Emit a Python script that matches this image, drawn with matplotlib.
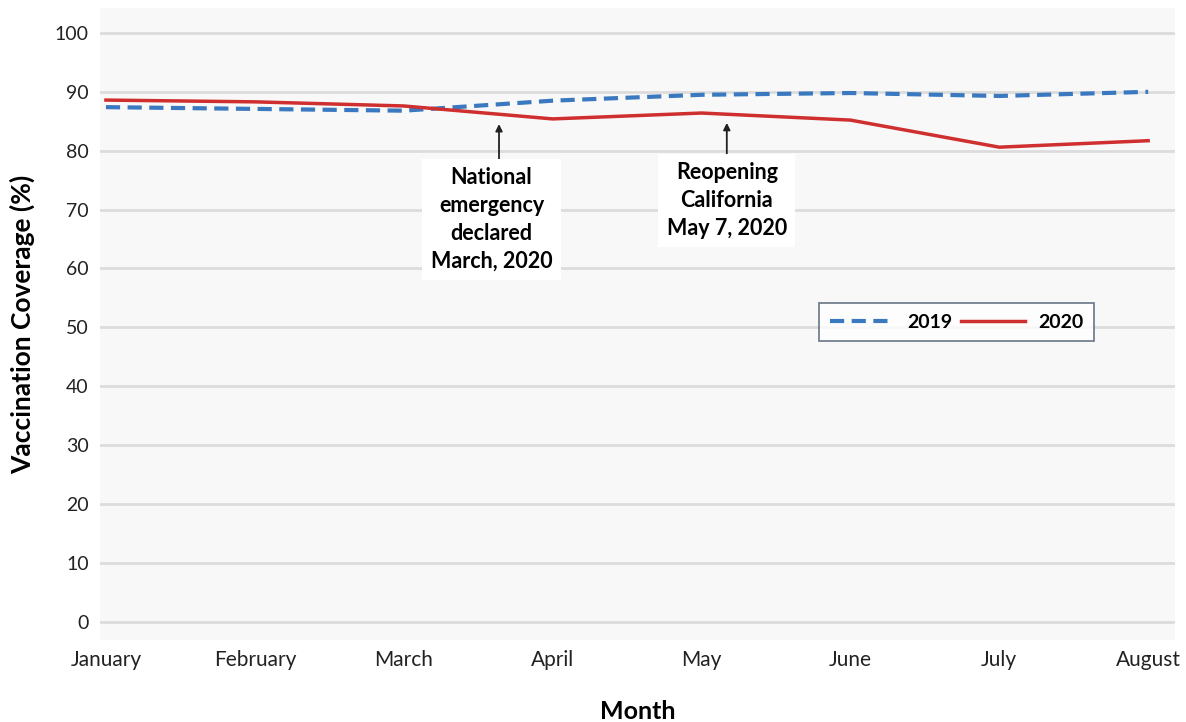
import matplotlib
matplotlib.use("Agg")
import matplotlib.pyplot as plt
import numpy as np

# data
months = ['January', 'February', 'March', 'April', 'May', 'June', 'July', 'August']
cov_2019 = [87.4, 87.1, 86.8, 88.5, 89.5, 89.8, 89.3, 90.0]
cov_2020 = [88.6, 88.3, 87.6, 85.4, 86.4, 85.2, 80.6, 81.7]
yticks = [0, 10, 20, 30, 40, 50, 60, 70, 80, 90, 100]

# events: (x position in month units, arrow head, arrow tail, text y, text)
events = [
    (2.64, 85.0, 77.5, 68.3, 'National\nemergency\ndeclared\nMarch, 2020'),
    (4.17, 85.2, 78.0, 71.5, 'Reopening\nCalifornia\nMay 7, 2020'),
]

plt.rcParams['font.family'] = ['Lato', 'DejaVu Sans']

fig = plt.figure(figsize=(11.86, 7.22), dpi=100)
ax = fig.add_axes([0.0843, 0.1136, 0.9064, 0.875])
ax.set_facecolor('#f8f8f8')

x = np.arange(len(months))
ax.plot(x, cov_2019, color='#3a78c0', lw=3.0, dashes=(3.4, 1.8), label='2019', zorder=3)
ax.plot(x, cov_2020, color='#cf2f2f', lw=2.5, label='2020', zorder=3)

ax.set_xlim(-0.04, 7.18)
ax.set_ylim(-3.1, 104.2)
ax.set_yticks(yticks)
ax.set_xticks(x)
ax.set_xticklabels(months)
ax.yaxis.grid(True, color='#dcdcdc', lw=2)
ax.set_axisbelow(True)
for s in ax.spines.values():
    s.set_visible(False)
ax.tick_params(axis='both', length=0, colors='#222222')
ax.tick_params(axis='x', pad=7, labelsize=15)
ax.tick_params(axis='y', pad=8, labelsize=14)

ax.set_ylabel('Vaccination Coverage (%)', fontsize=19, fontweight='bold', labelpad=14)
ax.set_xlabel('Month', fontsize=18, fontweight='bold', labelpad=22)

for xe, yh, yt, ytxt, txt in events:
    ax.annotate('', xy=(xe, yh), xytext=(xe, yt),
                arrowprops=dict(arrowstyle='-|>', color='#222222', lw=1.3,
                                mutation_scale=10))
    ax.text(xe - (0.05 if 'National' in txt else 0), ytxt, txt, ha='center', va='center',
            fontsize=15.5, fontweight='bold', linespacing=1.4,
            bbox=dict(facecolor='white', edgecolor='none', pad=6))

leg = ax.legend(loc='center', bbox_to_anchor=(0.797, 0.503), ncol=2,
                fontsize=14, frameon=True, fancybox=False, handlelength=3.3,
                columnspacing=0.4, handletextpad=0.7, borderpad=0.55)
for t in leg.get_texts():
    t.set_fontweight('bold')
leg.get_frame().set_edgecolor('#44546a')
leg.get_frame().set_linewidth(1.2)
leg.get_frame().set_facecolor('white')

fig.savefig('out.png', dpi=100)
